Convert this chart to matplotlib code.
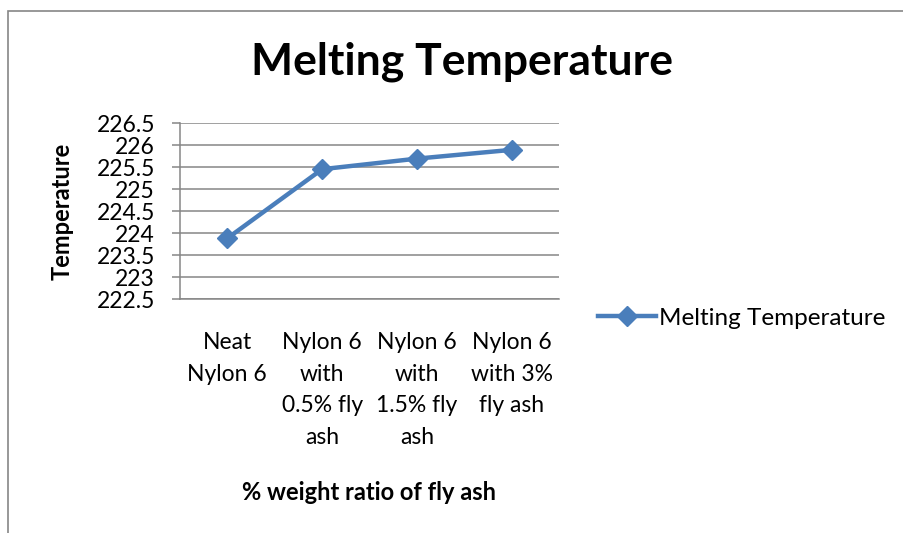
import matplotlib.pyplot as plt
from matplotlib.patches import Rectangle

plt.rcParams['font.family'] = ['Lato', 'DejaVu Sans']

categories = ["Neat\nNylon 6", "Nylon 6\nwith\n0.5% fly\nash", "Nylon 6\nwith\n1.5% fly\nash", "Nylon 6\nwith 3%\nfly ash"]
melting_temp = [223.88, 225.45, 225.69, 225.89]
y_ticks = [222.5, 223, 223.5, 224, 224.5, 225, 225.5, 226, 226.5]
y_tick_labels = ["222.5", "223", "223.5", "224", "224.5", "225", "225.5", "226", "226.5"]

blue = "#4a7ebb"
gray = "#868686"

fig = plt.figure(figsize=(9.04, 5.33), dpi=100)

# chart border (runs off the right and bottom edge)
fig.patches.append(Rectangle((8 / 904, -0.1), 1.2, 1 - 11 / 533 + 0.1,
                             transform=fig.transFigure, fill=False,
                             edgecolor=gray, linewidth=1.2))

ax = fig.add_axes([180 / 904, 1 - 299 / 533, 379 / 904, 176 / 533])
x = list(range(len(categories)))
ax.plot(x, melting_temp, color=blue, linewidth=3.2, marker="D", markersize=10.5,
        label="Melting Temperature", zorder=3)

ax.set_xlim(-0.5, 3.5)
ax.set_ylim(222.5, 226.5)
ax.set_yticks(y_ticks)
ax.set_yticklabels(y_tick_labels, fontsize=16.5)
ax.set_xticks(x)
ax.set_xticklabels(categories, fontsize=16.5, linespacing=1.62, va="top")
ax.tick_params(axis="x", length=0, pad=24)
ax.tick_params(axis="y", length=6, width=1.1, color=gray, pad=12)
ax.grid(axis="y", color=gray, linewidth=1.1)
ax.set_axisbelow(True)

for side in ["top", "right"]:
    ax.spines[side].set_visible(False)
for side in ["left", "bottom"]:
    ax.spines[side].set_color(gray)
    ax.spines[side].set_linewidth(1.1)

fig.text(462 / 904, 1 - 62 / 533, "Melting Temperature", fontsize=32,
         fontweight="bold", ha="center", va="center")
fig.text(62 / 904, 1 - 211 / 533, "Temperature", fontsize=17,
         fontweight="bold", rotation=90, ha="center", va="center")
fig.text(369 / 904, 1 - 492 / 533, "% weight ratio of fly ash", fontsize=17,
         fontweight="bold", ha="center", va="center")

ax.legend(loc="center left", bbox_to_anchor=(598 / 904, 1 - 318 / 533),
          bbox_transform=fig.transFigure, frameon=False, fontsize=17.5,
          handlelength=2.4, handletextpad=0.12, borderpad=0, borderaxespad=0)

fig.savefig("out.png", dpi=100)
